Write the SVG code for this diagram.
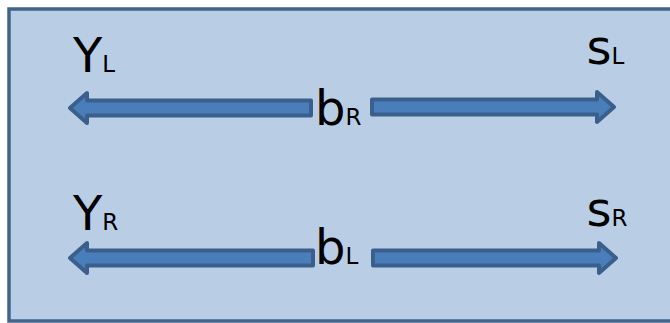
<svg xmlns="http://www.w3.org/2000/svg" width="670" height="323" viewBox="0 0 670 323">
<style>
.frame{fill:#b9cde5;stroke:#41648f;stroke-width:3.5}
.arrow{fill:#4a7ebb;stroke:#3a5f8c;stroke-width:4;stroke-linejoin:round}
.t{font-family:"DejaVu Sans",sans-serif;font-size:48px;fill:#000}
.sub{font-size:23px}
</style>
<rect class="frame" x="9" y="9" width="666" height="312"/>
<g id="connectors">
<path class="arrow" d="M70,108 L87,93 L87,100.5 L311,100.5 L311,115.5 L87,115.5 L87,123 Z"/>
<path class="arrow" d="M372,99.5 L597,99.5 L597,92 L614,107 L597,122 L597,114.5 L372,114.5 Z"/>
<path class="arrow" d="M70,258 L87,243 L87,250.5 L313,250.5 L313,265.5 L87,265.5 L87,273 Z"/>
<path class="arrow" d="M373,250.5 L599,250.5 L599,243 L616,258 L599,273 L599,265.5 L373,265.5 Z"/>
</g>
<g id="YL"><text class="t" x="73" y="72">Y<tspan class="sub">L</tspan></text></g>
<g id="sL"><text class="t" x="586.5" y="64">s<tspan class="sub">L</tspan></text></g>
<g id="bR"><text class="t" x="315" y="125">b<tspan class="sub">R</tspan></text></g>
<g id="YR"><text class="t" x="73" y="230">Y<tspan class="sub">R</tspan></text></g>
<g id="sR"><text class="t" x="586.5" y="226">s<tspan class="sub">R</tspan></text></g>
<g id="bL"><text class="t" x="315" y="264">b<tspan class="sub">L</tspan></text></g>
</svg>
